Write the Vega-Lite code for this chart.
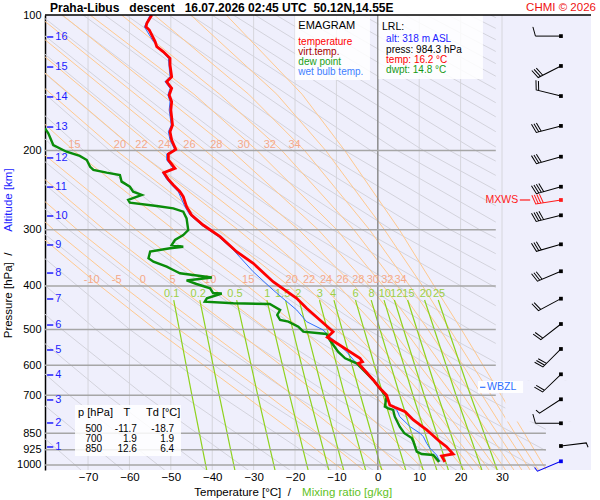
{
  "$schema": "https://vega.github.io/schema/vega-lite/v6.json",
  "width": 546,
  "height": 455,
  "autosize": {"type": "none"},
  "padding": {"left": 45, "top": 15, "right": 9, "bottom": 30},
  "background": "white",
  "config": {
    "font": "Liberation Sans",
    "view": {"stroke": null, "fill": "#efeffc"},
    "axis": {"grid": false, "ticks": false, "domain": false}
  },
  "data": {"values": [{}]},
  "datasets": {
    "iso": [{"T": -70}, {"T": -60}, {"T": -50}, {"T": -40}, {"T": -30}, {"T": -20}, {"T": -10}, {"T": 10}, {"T": 20}],
    "dry": [
      {"id": 200, "p": 1030, "T": -71.5}, {"id": 200, "p": 700, "T": -92.5},
      {"id": 210, "p": 1030, "T": -61.4}, {"id": 210, "p": 700, "T": -83.5},
      {"id": 220, "p": 1030, "T": -51.3}, {"id": 220, "p": 700, "T": -74.5}, {"id": 220, "p": 500, "T": -92.7},
      {"id": 230, "p": 1030, "T": -41.2}, {"id": 230, "p": 700, "T": -65.4}, {"id": 230, "p": 500, "T": -84.5},
      {"id": 240, "p": 1030, "T": -31.1}, {"id": 240, "p": 700, "T": -56.4}, {"id": 240, "p": 500, "T": -76.3}, {"id": 240, "p": 300, "T": -103.0},
      {"id": 250, "p": 1030, "T": -21.0}, {"id": 250, "p": 700, "T": -47.4}, {"id": 250, "p": 500, "T": -68.1}, {"id": 250, "p": 300, "T": -95.9},
      {"id": 260, "p": 1030, "T": -11.0}, {"id": 260, "p": 700, "T": -38.3}, {"id": 260, "p": 500, "T": -59.9}, {"id": 260, "p": 300, "T": -88.8},
      {"id": 270, "p": 1030, "T": -0.9}, {"id": 270, "p": 700, "T": -29.3}, {"id": 270, "p": 500, "T": -51.7}, {"id": 270, "p": 300, "T": -81.8}, {"id": 270, "p": 200, "T": -102.7},
      {"id": 280, "p": 1030, "T": 9.2}, {"id": 280, "p": 700, "T": -20.3}, {"id": 280, "p": 500, "T": -43.5}, {"id": 280, "p": 300, "T": -74.7}, {"id": 280, "p": 200, "T": -96.4},
      {"id": 290, "p": 1030, "T": 19.3}, {"id": 290, "p": 700, "T": -11.3}, {"id": 290, "p": 500, "T": -35.3}, {"id": 290, "p": 300, "T": -67.6}, {"id": 290, "p": 200, "T": -90.0},
      {"id": 300, "p": 1030, "T": 29.4}, {"id": 300, "p": 700, "T": -2.2}, {"id": 300, "p": 500, "T": -27.1}, {"id": 300, "p": 300, "T": -60.5}, {"id": 300, "p": 200, "T": -83.7},
      {"id": 310, "p": 1030, "T": 39.5}, {"id": 310, "p": 700, "T": 6.8}, {"id": 310, "p": 500, "T": -18.9}, {"id": 310, "p": 300, "T": -53.4}, {"id": 310, "p": 200, "T": -77.4}, {"id": 310, "p": 100, "T": -112.6},
      {"id": 320, "p": 1030, "T": 49.6}, {"id": 320, "p": 700, "T": 15.8}, {"id": 320, "p": 500, "T": -10.7}, {"id": 320, "p": 300, "T": -46.3}, {"id": 320, "p": 200, "T": -71.1}, {"id": 320, "p": 100, "T": -107.4},
      {"id": 330, "p": 1030, "T": 59.7}, {"id": 330, "p": 700, "T": 24.9}, {"id": 330, "p": 500, "T": -2.5}, {"id": 330, "p": 300, "T": -39.2}, {"id": 330, "p": 200, "T": -64.8}, {"id": 330, "p": 100, "T": -102.2},
      {"id": 340, "p": 1030, "T": 69.7}, {"id": 340, "p": 700, "T": 33.9}, {"id": 340, "p": 500, "T": 5.8}, {"id": 340, "p": 300, "T": -32.1}, {"id": 340, "p": 200, "T": -58.5}, {"id": 340, "p": 100, "T": -97.1},
      {"id": 350, "p": 700, "T": 42.9}, {"id": 350, "p": 500, "T": 14.0}, {"id": 350, "p": 300, "T": -25.0}, {"id": 350, "p": 200, "T": -52.2}, {"id": 350, "p": 100, "T": -91.9},
      {"id": 360, "p": 700, "T": 52.0}, {"id": 360, "p": 500, "T": 22.2}, {"id": 360, "p": 300, "T": -18.0}, {"id": 360, "p": 200, "T": -45.9}, {"id": 360, "p": 100, "T": -86.7},
      {"id": 370, "p": 700, "T": 61.0}, {"id": 370, "p": 500, "T": 30.4}, {"id": 370, "p": 300, "T": -10.9}, {"id": 370, "p": 200, "T": -39.5}, {"id": 370, "p": 100, "T": -81.5},
      {"id": 380, "p": 500, "T": 38.6}, {"id": 380, "p": 300, "T": -3.8}, {"id": 380, "p": 200, "T": -33.2}, {"id": 380, "p": 100, "T": -76.4},
      {"id": 390, "p": 500, "T": 46.8}, {"id": 390, "p": 300, "T": 3.3}, {"id": 390, "p": 200, "T": -26.9}, {"id": 390, "p": 100, "T": -71.2},
      {"id": 400, "p": 500, "T": 55.0}, {"id": 400, "p": 300, "T": 10.4}, {"id": 400, "p": 200, "T": -20.6}, {"id": 400, "p": 100, "T": -66.0},
      {"id": 410, "p": 500, "T": 63.2}, {"id": 410, "p": 300, "T": 17.5}, {"id": 410, "p": 200, "T": -14.3}, {"id": 410, "p": 100, "T": -60.8},
      {"id": 420, "p": 500, "T": 71.4}, {"id": 420, "p": 300, "T": 24.6}, {"id": 420, "p": 200, "T": -8.0}, {"id": 420, "p": 100, "T": -55.6},
      {"id": 430, "p": 300, "T": 31.7}, {"id": 430, "p": 200, "T": -1.7}, {"id": 430, "p": 100, "T": -50.5},
      {"id": 440, "p": 300, "T": 38.8}, {"id": 440, "p": 200, "T": 4.7}, {"id": 440, "p": 100, "T": -45.3},
      {"id": 450, "p": 300, "T": 45.9}, {"id": 450, "p": 200, "T": 11.0}, {"id": 450, "p": 100, "T": -40.1},
      {"id": 460, "p": 300, "T": 52.9}, {"id": 460, "p": 200, "T": 17.3}, {"id": 460, "p": 100, "T": -34.9},
      {"id": 470, "p": 300, "T": 60.0}, {"id": 470, "p": 200, "T": 23.6}, {"id": 470, "p": 100, "T": -29.7},
      {"id": 480, "p": 200, "T": 29.9}, {"id": 480, "p": 100, "T": -24.6},
      {"id": 490, "p": 200, "T": 36.2}, {"id": 490, "p": 100, "T": -19.4},
      {"id": 500, "p": 200, "T": 42.6}, {"id": 500, "p": 100, "T": -14.2},
      {"id": 510, "p": 200, "T": 48.9}, {"id": 510, "p": 100, "T": -9.0},
      {"id": 520, "p": 200, "T": 55.2}, {"id": 520, "p": 100, "T": -3.8},
      {"id": 530, "p": 200, "T": 61.5}, {"id": 530, "p": 100, "T": 1.3},
      {"id": 540, "p": 200, "T": 67.8}, {"id": 540, "p": 100, "T": 6.5},
      {"id": 550, "p": 200, "T": 74.1}, {"id": 550, "p": 100, "T": 11.7},
      {"id": 560, "p": 200, "T": 80.4}, {"id": 560, "p": 100, "T": 16.9},
      {"id": 570, "p": 200, "T": 86.8}, {"id": 570, "p": 100, "T": 22.1},
      {"id": 580, "p": 200, "T": 93.1}, {"id": 580, "p": 100, "T": 27.2}
    ],
    "moist": [
      {"id": -10, "p": 1030, "T": -8.2}, {"id": -10, "p": 850, "T": -20.0}, {"id": -10, "p": 700, "T": -32.3}, {"id": -10, "p": 500, "T": -53.7}, {"id": -10, "p": 400, "T": -67.1}, {"id": -10, "p": 300, "T": -83.4},
      {"id": -5, "p": 1030, "T": -3.3}, {"id": -5, "p": 850, "T": -14.5}, {"id": -5, "p": 700, "T": -26.6}, {"id": -5, "p": 500, "T": -48.0}, {"id": -5, "p": 400, "T": -61.7}, {"id": -5, "p": 300, "T": -78.3}, {"id": -5, "p": 200, "T": -99.6},
      {"id": 0, "p": 1030, "T": 1.6}, {"id": 0, "p": 850, "T": -9.0}, {"id": 0, "p": 700, "T": -20.4}, {"id": 0, "p": 500, "T": -41.6}, {"id": 0, "p": 400, "T": -55.6}, {"id": 0, "p": 300, "T": -72.6}, {"id": 0, "p": 200, "T": -94.6},
      {"id": 5, "p": 1030, "T": 6.5}, {"id": 5, "p": 850, "T": -3.3}, {"id": 5, "p": 700, "T": -14.0}, {"id": 5, "p": 500, "T": -34.6}, {"id": 5, "p": 400, "T": -48.6}, {"id": 5, "p": 300, "T": -66.1}, {"id": 5, "p": 200, "T": -88.7},
      {"id": 10, "p": 1030, "T": 11.4}, {"id": 10, "p": 850, "T": 2.3}, {"id": 10, "p": 700, "T": -7.5}, {"id": 10, "p": 500, "T": -26.7}, {"id": 10, "p": 400, "T": -40.6}, {"id": 10, "p": 300, "T": -58.4}, {"id": 10, "p": 200, "T": -81.8},
      {"id": 15, "p": 1030, "T": 16.3}, {"id": 15, "p": 850, "T": 8.0}, {"id": 15, "p": 700, "T": -0.8}, {"id": 15, "p": 500, "T": -18.3}, {"id": 15, "p": 400, "T": -31.5}, {"id": 15, "p": 300, "T": -49.3}, {"id": 15, "p": 200, "T": -73.5}, {"id": 15, "p": 100, "T": -109.3},
      {"id": 20, "p": 1030, "T": 21.2}, {"id": 20, "p": 850, "T": 13.6}, {"id": 20, "p": 700, "T": 5.7}, {"id": 20, "p": 500, "T": -9.7}, {"id": 20, "p": 400, "T": -21.5}, {"id": 20, "p": 300, "T": -38.5}, {"id": 20, "p": 200, "T": -63.2}, {"id": 20, "p": 100, "T": -100.9},
      {"id": 22, "p": 1030, "T": 23.1}, {"id": 22, "p": 850, "T": 15.9}, {"id": 22, "p": 700, "T": 8.3}, {"id": 22, "p": 500, "T": -6.3}, {"id": 22, "p": 400, "T": -17.5}, {"id": 22, "p": 300, "T": -33.8}, {"id": 22, "p": 200, "T": -58.4}, {"id": 22, "p": 100, "T": -96.9},
      {"id": 24, "p": 1030, "T": 25.1}, {"id": 24, "p": 850, "T": 18.0}, {"id": 24, "p": 700, "T": 10.8}, {"id": 24, "p": 500, "T": -3.0}, {"id": 24, "p": 400, "T": -13.4}, {"id": 24, "p": 300, "T": -28.9}, {"id": 24, "p": 200, "T": -53.3}, {"id": 24, "p": 100, "T": -92.5},
      {"id": 26, "p": 1030, "T": 27.0}, {"id": 26, "p": 850, "T": 20.3}, {"id": 26, "p": 700, "T": 13.2}, {"id": 26, "p": 500, "T": 0.3}, {"id": 26, "p": 400, "T": -9.5}, {"id": 26, "p": 300, "T": -24.0}, {"id": 26, "p": 200, "T": -47.7}, {"id": 26, "p": 100, "T": -87.7},
      {"id": 28, "p": 1030, "T": 29.0}, {"id": 28, "p": 850, "T": 22.4}, {"id": 28, "p": 700, "T": 15.7}, {"id": 28, "p": 500, "T": 3.3}, {"id": 28, "p": 400, "T": -5.7}, {"id": 28, "p": 300, "T": -19.1}, {"id": 28, "p": 200, "T": -41.7}, {"id": 28, "p": 100, "T": -82.3},
      {"id": 30, "p": 1030, "T": 31.0}, {"id": 30, "p": 850, "T": 24.7}, {"id": 30, "p": 700, "T": 18.1}, {"id": 30, "p": 500, "T": 6.4}, {"id": 30, "p": 400, "T": -2.1}, {"id": 30, "p": 300, "T": -14.4}, {"id": 30, "p": 200, "T": -35.4}, {"id": 30, "p": 100, "T": -76.2},
      {"id": 32, "p": 1030, "T": 33.0}, {"id": 32, "p": 850, "T": 26.7}, {"id": 32, "p": 700, "T": 20.6}, {"id": 32, "p": 500, "T": 9.3}, {"id": 32, "p": 400, "T": 1.3}, {"id": 32, "p": 300, "T": -9.9}, {"id": 32, "p": 200, "T": -29.2}, {"id": 32, "p": 150, "T": -44.4}, {"id": 32, "p": 100, "T": -69.5},
      {"id": 34, "p": 1030, "T": 34.9}, {"id": 34, "p": 850, "T": 28.9}, {"id": 34, "p": 700, "T": 22.8}, {"id": 34, "p": 500, "T": 12.1}, {"id": 34, "p": 400, "T": 4.7}, {"id": 34, "p": 300, "T": -5.8}, {"id": 34, "p": 200, "T": -23.2}, {"id": 34, "p": 150, "T": -38.2}, {"id": 34, "p": 100, "T": -61.9},
      {"id": 36, "p": 1030, "T": 36.9}, {"id": 36, "p": 850, "T": 31.0}, {"id": 36, "p": 700, "T": 25.2}, {"id": 36, "p": 500, "T": 15.0}, {"id": 36, "p": 400, "T": 7.7}, {"id": 36, "p": 300, "T": -2.0}, {"id": 36, "p": 200, "T": -17.7}, {"id": 36, "p": 150, "T": -31.2}, {"id": 36, "p": 100, "T": -54.0},
      {"id": 38, "p": 1030, "T": 38.9}, {"id": 38, "p": 850, "T": 33.1}, {"id": 38, "p": 700, "T": 27.4}, {"id": 38, "p": 500, "T": 17.4}, {"id": 38, "p": 400, "T": 10.8}, {"id": 38, "p": 300, "T": 1.6}, {"id": 38, "p": 200, "T": -12.6}, {"id": 38, "p": 150, "T": -24.4}, {"id": 38, "p": 100, "T": -45.2},
      {"id": 40, "p": 1030, "T": 40.8}, {"id": 40, "p": 850, "T": 35.4}, {"id": 40, "p": 700, "T": 29.8}, {"id": 40, "p": 500, "T": 20.2}, {"id": 40, "p": 400, "T": 13.6}, {"id": 40, "p": 300, "T": 5.2}, {"id": 40, "p": 200, "T": -8.0}, {"id": 40, "p": 150, "T": -18.3}, {"id": 40, "p": 100, "T": -36.6}
    ],
    "mix": [
      {"id": 0.1, "p": 1030, "T": -41.3}, {"id": 0.1, "p": 700, "T": -44.9}, {"id": 0.1, "p": 430, "T": -49.3},
      {"id": 0.2, "p": 1030, "T": -34.5}, {"id": 0.2, "p": 700, "T": -38.3}, {"id": 0.2, "p": 430, "T": -43.0},
      {"id": 0.5, "p": 1030, "T": -24.8}, {"id": 0.5, "p": 700, "T": -29.0}, {"id": 0.5, "p": 430, "T": -34.1},
      {"id": 1, "p": 1030, "T": -16.8}, {"id": 1, "p": 700, "T": -21.3}, {"id": 1, "p": 430, "T": -26.8},
      {"id": 1.5, "p": 1030, "T": -11.8}, {"id": 1.5, "p": 700, "T": -16.6}, {"id": 1.5, "p": 430, "T": -22.3},
      {"id": 2, "p": 1030, "T": -8.2}, {"id": 2, "p": 700, "T": -13.1}, {"id": 2, "p": 430, "T": -19.0},
      {"id": 3, "p": 1030, "T": -2.9}, {"id": 3, "p": 700, "T": -8.0}, {"id": 3, "p": 430, "T": -14.1},
      {"id": 4, "p": 1030, "T": 1.0}, {"id": 4, "p": 700, "T": -4.2}, {"id": 4, "p": 430, "T": -10.6},
      {"id": 6, "p": 1030, "T": 6.8}, {"id": 6, "p": 700, "T": 1.3}, {"id": 6, "p": 430, "T": -5.4},
      {"id": 8, "p": 1030, "T": 11.0}, {"id": 8, "p": 700, "T": 5.3}, {"id": 8, "p": 430, "T": -1.6},
      {"id": 10, "p": 1030, "T": 14.3}, {"id": 10, "p": 700, "T": 8.5}, {"id": 10, "p": 430, "T": 1.5},
      {"id": 12, "p": 1030, "T": 17.1}, {"id": 12, "p": 700, "T": 11.2}, {"id": 12, "p": 430, "T": 4.0},
      {"id": 15, "p": 1030, "T": 20.6}, {"id": 15, "p": 700, "T": 14.5}, {"id": 15, "p": 430, "T": 7.2},
      {"id": 20, "p": 1030, "T": 25.2}, {"id": 20, "p": 700, "T": 18.9}, {"id": 20, "p": 430, "T": 11.3},
      {"id": 25, "p": 1030, "T": 28.9}, {"id": 25, "p": 700, "T": 22.4}, {"id": 25, "p": 430, "T": 14.6}
    ],
    "mixlab": [
      {"lab": "0.1", "T": -49.8}, {"lab": "0.2", "T": -43.4}, {"lab": "0.5", "T": -34.5}, {"lab": "1", "T": -26.7}, {"lab": "1.5", "T": -23.0},
      {"lab": "2", "T": -19.2}, {"lab": "3", "T": -14.0}, {"lab": "4", "T": -10.8}, {"lab": "6", "T": -5.4}, {"lab": "8", "T": -1.5},
      {"lab": "10", "T": 1.7}, {"lab": "12", "T": 4.5}, {"lab": "15", "T": 7.4}, {"lab": "20", "T": 11.6}, {"lab": "25", "T": 14.8}
    ],
    "wlab400": [
      {"lab": "-10", "T": -69.1}, {"lab": "-5", "T": -63.1}, {"lab": "0", "T": -56.8}, {"lab": "5", "T": -49.6}, {"lab": "10", "T": -40.5},
      {"lab": "15", "T": -31.3}, {"lab": "20", "T": -20.8}, {"lab": "22", "T": -16.6}, {"lab": "24", "T": -12.5}, {"lab": "26", "T": -8.5},
      {"lab": "28", "T": -4.7}, {"lab": "30", "T": -1.2}, {"lab": "32", "T": 2.3}, {"lab": "34", "T": 5.5}
    ],
    "wlab200": [
      {"lab": "15", "T": -73.3}, {"lab": "20", "T": -62.3}, {"lab": "22", "T": -57.1}, {"lab": "24", "T": -51.6}, {"lab": "26", "T": -45.5},
      {"lab": "28", "T": -39.0}, {"lab": "30", "T": -32.4}, {"lab": "32", "T": -26.1}, {"lab": "34", "T": -20.1}
    ],
    "temp": [
      {"p": 100, "T": -54.6}, {"p": 104.3, "T": -55.8}, {"p": 106.2, "T": -56.0}, {"p": 108.0, "T": -55.2}, {"p": 114.6, "T": -53.8},
      {"p": 117.6, "T": -53.4}, {"p": 120.7, "T": -51.8}, {"p": 124.8, "T": -50.2}, {"p": 129.2, "T": -50.2}, {"p": 137.1, "T": -49.8},
      {"p": 140.7, "T": -51.0}, {"p": 145.5, "T": -49.8}, {"p": 150.6, "T": -50.4}, {"p": 155.8, "T": -49.8}, {"p": 162.6, "T": -50.0},
      {"p": 175.6, "T": -49.6}, {"p": 181.7, "T": -50.2}, {"p": 189.6, "T": -49.8}, {"p": 198.9, "T": -48.8}, {"p": 203.7, "T": -50.6},
      {"p": 210.0, "T": -50.6}, {"p": 219.2, "T": -49.0}, {"p": 224.1, "T": -51.7}, {"p": 231.9, "T": -50.6}, {"p": 238.7, "T": -49.4},
      {"p": 247.0, "T": -47.8}, {"p": 253.4, "T": -47.0}, {"p": 266.7, "T": -46.2}, {"p": 278.3, "T": -45.0}, {"p": 292.9, "T": -42.2},
      {"p": 310.9, "T": -38.1}, {"p": 335.7, "T": -34.1}, {"p": 356.3, "T": -30.1}, {"p": 391.4, "T": -25.3}, {"p": 426.2, "T": -19.6},
      {"p": 448.5, "T": -17.2}, {"p": 476.2, "T": -14.0}, {"p": 505.6, "T": -10.8}, {"p": 520.2, "T": -12.2}, {"p": 536.5, "T": -9.9},
      {"p": 579.4, "T": -4.3}, {"p": 589.6, "T": -3.7}, {"p": 594.3, "T": -4.7}, {"p": 647.3, "T": -1.1}, {"p": 675.5, "T": 0.5},
      {"p": 698.9, "T": 2.1}, {"p": 735.6, "T": 2.9}, {"p": 744.3, "T": 4.1}, {"p": 761.3, "T": 6.6}, {"p": 794.3, "T": 8.6},
      {"p": 835.9, "T": 11.8}, {"p": 857.7, "T": 13.2}, {"p": 887.6, "T": 15.0}, {"p": 910.6, "T": 16.6}, {"p": 945.3, "T": 18.2},
      {"p": 955.0, "T": 15.4}, {"p": 984.3, "T": 16.2}
    ],
    "dew": [
      {"p": 178.6, "T": -80.4}, {"p": 183.2, "T": -79.6}, {"p": 194.5, "T": -78.4}, {"p": 201.3, "T": -75.2}, {"p": 205.7, "T": -72.0},
      {"p": 210.0, "T": -70.3}, {"p": 217.4, "T": -69.5}, {"p": 221.0, "T": -68.7}, {"p": 224.1, "T": -65.5}, {"p": 226.8, "T": -62.3},
      {"p": 234.6, "T": -61.9}, {"p": 240.8, "T": -59.9}, {"p": 247.0, "T": -59.1}, {"p": 251.2, "T": -57.0}, {"p": 257.7, "T": -60.3},
      {"p": 261.3, "T": -59.9}, {"p": 265.8, "T": -53.4}, {"p": 268.9, "T": -49.4}, {"p": 273.6, "T": -47.0}, {"p": 283.1, "T": -46.2},
      {"p": 300.5, "T": -45.8}, {"p": 308.3, "T": -47.0}, {"p": 316.2, "T": -49.0}, {"p": 324.4, "T": -49.8}, {"p": 327.3, "T": -47.0},
      {"p": 329.9, "T": -50.2}, {"p": 335.7, "T": -55.0}, {"p": 347.3, "T": -55.4}, {"p": 353.3, "T": -54.2}, {"p": 362.5, "T": -51.0},
      {"p": 368.7, "T": -49.4}, {"p": 375.0, "T": -47.8}, {"p": 383.1, "T": -40.1}, {"p": 389.0, "T": -46.2}, {"p": 396.1, "T": -43.8},
      {"p": 404.9, "T": -40.5}, {"p": 414.8, "T": -39.8}, {"p": 415.8, "T": -37.7}, {"p": 426.2, "T": -41.3}, {"p": 433.6, "T": -41.8},
      {"p": 437.2, "T": -34.9}, {"p": 438.7, "T": -26.1}, {"p": 452.4, "T": -23.6}, {"p": 464.2, "T": -24.3}, {"p": 476.2, "T": -23.6},
      {"p": 480.3, "T": -21.6}, {"p": 492.8, "T": -19.2}, {"p": 505.6, "T": -18.0}, {"p": 511.5, "T": -12.4}, {"p": 527.5, "T": -11.6},
      {"p": 560.1, "T": -9.6}, {"p": 579.4, "T": -7.9}, {"p": 594.3, "T": -5.1}, {"p": 647.3, "T": -1.1}, {"p": 675.5, "T": 0.5},
      {"p": 706.1, "T": 2.1}, {"p": 742.0, "T": 1.7}, {"p": 748.2, "T": 2.5}, {"p": 754.7, "T": 3.7}, {"p": 781.0, "T": 4.1},
      {"p": 822.0, "T": 5.3}, {"p": 850.0, "T": 6.4}, {"p": 871.0, "T": 8.2}, {"p": 887.6, "T": 8.6}, {"p": 934.2, "T": 9.4},
      {"p": 945.3, "T": 10.6}, {"p": 950.1, "T": 13.4}, {"p": 984.3, "T": 14.8}
    ],
    "wet": [
      {"p": 100, "T": -55.0}, {"p": 106.2, "T": -56.4}, {"p": 114.6, "T": -54.2}, {"p": 124.8, "T": -50.6}, {"p": 137.1, "T": -50.2},
      {"p": 140.7, "T": -51.4}, {"p": 145.5, "T": -50.2}, {"p": 150.6, "T": -50.7}, {"p": 155.8, "T": -50.2}, {"p": 162.6, "T": -50.4},
      {"p": 175.6, "T": -49.9}, {"p": 181.7, "T": -50.6}, {"p": 189.6, "T": -50.2}, {"p": 198.9, "T": -49.1}, {"p": 203.7, "T": -51.0},
      {"p": 210.0, "T": -51.0}, {"p": 219.2, "T": -49.4}, {"p": 224.1, "T": -52.0}, {"p": 231.9, "T": -51.0}, {"p": 238.7, "T": -49.8},
      {"p": 247.0, "T": -48.2}, {"p": 266.7, "T": -46.6}, {"p": 278.3, "T": -45.4}, {"p": 292.9, "T": -42.6}, {"p": 310.9, "T": -38.5},
      {"p": 332.8, "T": -34.9}, {"p": 372.0, "T": -30.1}, {"p": 408.4, "T": -25.3}, {"p": 452.4, "T": -19.6}, {"p": 480.3, "T": -17.2},
      {"p": 501.2, "T": -13.2}, {"p": 518.7, "T": -11.6}, {"p": 561.0, "T": -7.5}, {"p": 589.6, "T": -5.5}, {"p": 647.3, "T": -1.1},
      {"p": 675.5, "T": 0.5}, {"p": 698.9, "T": 2.1}, {"p": 717.1, "T": 2.3}, {"p": 735.6, "T": 2.9}, {"p": 754.7, "T": 4.6},
      {"p": 781.0, "T": 5.3}, {"p": 822.0, "T": 7.8}, {"p": 850.3, "T": 10.2}, {"p": 865.1, "T": 11.0}, {"p": 895.0, "T": 11.8},
      {"p": 918.2, "T": 12.6}, {"p": 950.1, "T": 14.2}, {"p": 984.3, "T": 15.0}
    ],
    "alt": [
      {"km": 16, "p": 111.9}, {"km": 15, "p": 130.5}, {"km": 14, "p": 152.1}, {"km": 13, "p": 177.4}, {"km": 12, "p": 207.8},
      {"km": 11, "p": 241.2}, {"km": 10, "p": 279.7}, {"km": 9, "p": 324.4}, {"km": 8, "p": 374.5}, {"km": 7, "p": 427.7},
      {"km": 6, "p": 488.6}, {"km": 5, "p": 555.2}, {"km": 4, "p": 631.0}, {"km": 3, "p": 717.0}, {"km": 2, "p": 806.6}, {"km": 1, "p": 912.0}
    ],
    "wind": [
      {"p": 111.4, "dd": 270, "kt": 10, "kind": "obs"}, {"p": 129.8, "dd": 243, "kt": 30, "kind": "obs"},
      {"p": 151.4, "dd": 284, "kt": 20, "kind": "obs"}, {"p": 176.4, "dd": 255, "kt": 30, "kind": "obs"},
      {"p": 206.5, "dd": 254, "kt": 30, "kind": "obs"}, {"p": 240.8, "dd": 254, "kt": 40, "kind": "obs"},
      {"p": 257.7, "dd": 261, "kt": 40, "kind": "mxws"}, {"p": 278.7, "dd": 256, "kt": 40, "kind": "obs"},
      {"p": 323.3, "dd": 254, "kt": 30, "kind": "obs"}, {"p": 371.1, "dd": 247, "kt": 30, "kind": "obs"},
      {"p": 427.0, "dd": 242, "kt": 20, "kind": "obs"}, {"p": 486.1, "dd": 232, "kt": 20, "kind": "obs"},
      {"p": 552.3, "dd": 225, "kt": 30, "kind": "obs"}, {"p": 628.7, "dd": 226, "kt": 20, "kind": "obs"},
      {"p": 714.5, "dd": 237, "kt": 5, "kind": "obs"}, {"p": 807.8, "dd": 270, "kt": 10, "kind": "obs"},
      {"p": 907.4, "dd": 83, "kt": 5, "kind": "obs"}, {"p": 981.3, "dd": 247, "kt": 5, "kind": "sfc"}
    ]
  },
  "layer": [
    {
      "data": {"name": "iso"},
      "mark": {"type": "rule", "color": "#d6d6dc", "strokeWidth": 1},
      "encoding": {
        "x": {"field": "T", "type": "quantitative", "scale": {"domain": [-80.4, 51.5], "nice": false, "zero": false},
          "axis": {"values": [-70, -60, -50, -40, -30, -20, -10, 0, 10, 20, 30], "title": null, "labelFontSize": 11.5, "labelPadding": 1, "labelColor": "black", "labelFont": "Liberation Sans", "domain": false, "ticks": false, "grid": false}}
      }
    },
    {
      "data": {"name": "dry"},
      "mark": {"type": "line", "color": "#d3d3dc", "strokeWidth": 1, "clip": true},
      "encoding": {
        "x": {"field": "T", "type": "quantitative"},
        "y": {"field": "p", "type": "quantitative", "scale": {"type": "log", "domain": [100, 1026], "reverse": true, "nice": false},
          "axis": {"values": [100, 200, 300, 400, 500, 600, 700, 850, 925, 1000], "format": "d", "title": null, "labelFontSize": 11, "labelPadding": 4, "labelColor": "black", "labelFont": "Liberation Sans", "labelOverlap": false, "domain": true, "domainColor": "black", "domainWidth": 1.5, "ticks": false, "grid": false}},
        "detail": {"field": "id", "type": "nominal"},
        "order": {"field": "p", "type": "quantitative"}
      }
    },
    {
      "data": {"name": "moist"},
      "mark": {"type": "line", "color": "#ffc98f", "strokeWidth": 1, "clip": true},
      "encoding": {
        "x": {"field": "T", "type": "quantitative"},
        "y": {"field": "p", "type": "quantitative"},
        "detail": {"field": "id", "type": "nominal"},
        "order": {"field": "p", "type": "quantitative"}
      }
    },
    {
      "data": {"name": "mix"},
      "mark": {"type": "line", "color": "#8fd21e", "strokeWidth": 1.2, "clip": true},
      "encoding": {
        "x": {"field": "T", "type": "quantitative"},
        "y": {"field": "p", "type": "quantitative"},
        "detail": {"field": "id", "type": "nominal"},
        "order": {"field": "p", "type": "quantitative"}
      }
    },
    {
      "mark": {"type": "rect", "color": "#efeffc", "opacity": 1},
      "encoding": {"x": {"datum": 28.5}, "x2": {"datum": 51.5}, "y": {"datum": 100}, "y2": {"datum": 650}}
    },
    {
      "mark": {"type": "rect", "color": "#efeffc", "opacity": 1},
      "encoding": {"x": {"datum": 30.8}, "x2": {"datum": 51.5}, "y": {"datum": 650}, "y2": {"datum": 800}}
    },
    {
      "mark": {"type": "rect", "color": "#efeffc", "opacity": 1},
      "encoding": {"x": {"datum": 40.6}, "x2": {"datum": 51.5}, "y": {"datum": 800}, "y2": {"datum": 1026}}
    },
    {
      "mark": {"type": "rule", "color": "#d6d6dc", "strokeWidth": 1},
      "encoding": {"x": {"datum": 30}}
    },
    {
      "mark": {"type": "rule", "color": "#8c8c8c", "strokeWidth": 1.5},
      "encoding": {"x": {"datum": 0}}
    },
    {
      "data": {"values": [{"p": 200}, {"p": 300}, {"p": 400}, {"p": 500}, {"p": 600}, {"p": 700}]},
      "mark": {"type": "rule", "color": "#a6a6a6", "strokeWidth": 1.5},
      "encoding": {"y": {"field": "p", "type": "quantitative"}, "x": {"datum": -80.4}, "x2": {"datum": 28.5}}
    },
    {
      "data": {"values": [{"p": 850}, {"p": 925}, {"p": 1000}]},
      "mark": {"type": "rule", "color": "#a6a6a6", "strokeWidth": 1.5},
      "encoding": {"y": {"field": "p", "type": "quantitative"}, "x": {"datum": -80.4}, "x2": {"datum": 40.6}}
    },
    {
      "data": {"name": "wlab400"},
      "mark": {"type": "text", "color": "#f4a98a", "fontSize": 11, "baseline": "middle"},
      "encoding": {"x": {"field": "T", "type": "quantitative"}, "y": {"datum": 388}, "text": {"field": "lab"}}
    },
    {
      "data": {"name": "wlab200"},
      "mark": {"type": "text", "color": "#f4a98a", "fontSize": 11, "baseline": "middle"},
      "encoding": {"x": {"field": "T", "type": "quantitative"}, "y": {"datum": 194.5}, "text": {"field": "lab"}}
    },
    {
      "data": {"name": "mixlab"},
      "mark": {"type": "text", "color": "#9ccf45", "fontSize": 11, "baseline": "middle"},
      "encoding": {"x": {"field": "T", "type": "quantitative"}, "y": {"datum": 417}, "text": {"field": "lab"}}
    },
    {
      "mark": {"type": "rect", "color": "white", "opacity": 0.85},
      "encoding": {"x": {"datum": -20.0}, "x2": {"datum": -1.9}, "y": {"datum": 100}, "y2": {"datum": 139.5}}
    },
    {
      "mark": {"type": "rect", "color": "white", "opacity": 0.85},
      "encoding": {"x": {"datum": 0.2}, "x2": {"datum": 25.4}, "y": {"datum": 100}, "y2": {"datum": 138.8}}
    },
    {
      "mark": {"type": "rect", "color": "white", "opacity": 0.85},
      "encoding": {"x": {"datum": -73.15}, "x2": {"datum": -47.55}, "y": {"datum": 735.6}, "y2": {"datum": 955}}
    },
    {
      "mark": {"type": "rect", "color": "white", "opacity": 0.9},
      "encoding": {"x": {"datum": 24.2}, "x2": {"datum": 35.1}, "y": {"datum": 650.6}, "y2": {"datum": 691.8}}
    },
    {
      "data": {"name": "wet"},
      "mark": {"type": "line", "color": "#2f6fff", "strokeWidth": 1, "clip": true},
      "encoding": {"x": {"field": "T", "type": "quantitative"}, "y": {"field": "p", "type": "quantitative"}, "order": {"field": "p", "type": "quantitative"}}
    },
    {
      "data": {"name": "dew"},
      "mark": {"type": "line", "color": "#0a8c0a", "strokeWidth": 2.4, "clip": true},
      "encoding": {"x": {"field": "T", "type": "quantitative"}, "y": {"field": "p", "type": "quantitative"}, "order": {"field": "p", "type": "quantitative"}}
    },
    {
      "data": {"name": "temp"},
      "mark": {"type": "line", "color": "#ff0000", "strokeWidth": 2.8, "clip": true},
      "encoding": {"x": {"field": "T", "type": "quantitative"}, "y": {"field": "p", "type": "quantitative"}, "order": {"field": "p", "type": "quantitative"}}
    },
    {
      "data": {"name": "alt"},
      "mark": {"type": "rule", "color": "#1c1cff", "strokeWidth": 1.5},
      "encoding": {"y": {"field": "p", "type": "quantitative"}, "x": {"datum": -79.9}, "x2": {"datum": -78.4}}
    },
    {
      "data": {"name": "alt"},
      "mark": {"type": "text", "color": "#1c1cff", "fontSize": 11, "align": "left", "baseline": "middle"},
      "encoding": {"y": {"field": "p", "type": "quantitative"}, "x": {"datum": -77.9}, "text": {"field": "km"}}
    },
    {
      "data": {"name": "wind"},
      "mark": {"type": "point", "filled": false, "size": 2601, "strokeWidth": 1, "opacity": 1},
      "encoding": {
        "x": {"datum": 44.24},
        "y": {"field": "p", "type": "quantitative"},
        "shape": {"field": "kt", "type": "nominal", "legend": null,
          "scale": {"domain": [5, 10, 20, 30, 40], "range": [
            "M0,0L-1,0L-1.05,-0.18",
            "M0,0L-1,0L-1.1,-0.36",
            "M0,0L-1,0L-1.1,-0.36M-0.9,0L-1,-0.36",
            "M0,0L-1,0L-1.1,-0.36M-0.9,0L-1,-0.36M-0.8,0L-0.9,-0.36",
            "M0,0L-1,0L-1.1,-0.36M-0.9,0L-1,-0.36M-0.8,0L-0.9,-0.36M-0.7,0L-0.8,-0.36"]}},
        "angle": {"field": "dd", "type": "quantitative", "scale": {"domain": [0, 360], "range": [-270, 90]}},
        "color": {"field": "kind", "type": "nominal", "legend": null, "scale": {"domain": ["obs", "mxws", "sfc"], "range": ["black", "#ff1a1a", "#0000ee"]}}
      }
    },
    {
      "data": {"name": "wind"},
      "mark": {"type": "point", "filled": true, "shape": "square", "size": 14, "opacity": 1},
      "encoding": {
        "x": {"datum": 44.24},
        "y": {"field": "p", "type": "quantitative"},
        "color": {"field": "kind", "type": "nominal", "legend": null, "scale": {"domain": ["obs", "mxws", "sfc"], "range": ["black", "#ff1a1a", "#0000ee"]}}
      }
    },
    {
      "mark": {"type": "rule", "color": "#ff1a1a", "strokeWidth": 1.2},
      "encoding": {"x": {"datum": 34.3}, "x2": {"datum": 36.8}, "y": {"datum": 257.7}}
    },
    {
      "mark": {"type": "text", "text": "MXWS", "color": "#ff1a1a", "fontSize": 10.5, "align": "right", "baseline": "middle"},
      "encoding": {"x": {"datum": 33.9}, "y": {"datum": 257.7}}
    },
    {
      "mark": {"type": "rule", "color": "#2f6fff", "strokeWidth": 1.2},
      "encoding": {"x": {"datum": 24.7}, "x2": {"datum": 26.0}, "y": {"datum": 672}}
    },
    {
      "mark": {"type": "text", "text": "WBZL", "color": "#2f6fff", "fontSize": 10.5, "align": "left", "baseline": "middle"},
      "encoding": {"x": {"datum": 26.4}, "y": {"datum": 672}}
    },
    {
      "mark": {"type": "text", "text": "EMAGRAM", "color": "black", "fontSize": 11, "align": "left", "baseline": "middle"},
      "encoding": {"x": {"datum": -19.2}, "y": {"datum": 105.8}}
    },
    {
      "mark": {"type": "text", "text": "temperature", "color": "#ff0000", "fontSize": 10, "align": "left", "baseline": "middle"},
      "encoding": {"x": {"datum": -19.2}, "y": {"datum": 114.6}}
    },
    {
      "mark": {"type": "text", "text": "virt.temp.", "color": "#a50000", "fontSize": 10, "align": "left", "baseline": "middle"},
      "encoding": {"x": {"datum": -19.2}, "y": {"datum": 121.0}}
    },
    {
      "mark": {"type": "text", "text": "dew point", "color": "#18a018", "fontSize": 10, "align": "left", "baseline": "middle"},
      "encoding": {"x": {"datum": -19.2}, "y": {"datum": 127.2}}
    },
    {
      "mark": {"type": "text", "text": "wet bulb temp.", "color": "#3f7fff", "fontSize": 10, "align": "left", "baseline": "middle"},
      "encoding": {"x": {"datum": -19.2}, "y": {"datum": 133.7}}
    },
    {
      "mark": {"type": "text", "text": "LRL:", "color": "black", "fontSize": 10.5, "align": "left", "baseline": "middle"},
      "encoding": {"x": {"datum": 1.0}, "y": {"datum": 106.3}}
    },
    {
      "mark": {"type": "text", "text": "alt: 318 m ASL", "color": "#1c1cff", "fontSize": 10, "align": "left", "baseline": "middle"},
      "encoding": {"x": {"datum": 2.0}, "y": {"datum": 113.2}}
    },
    {
      "mark": {"type": "text", "text": "press: 984.3 hPa", "color": "black", "fontSize": 10, "align": "left", "baseline": "middle"},
      "encoding": {"x": {"datum": 2.0}, "y": {"datum": 119.6}}
    },
    {
      "mark": {"type": "text", "text": "temp: 16.2 °C", "color": "#ff0000", "fontSize": 10, "align": "left", "baseline": "middle"},
      "encoding": {"x": {"datum": 2.0}, "y": {"datum": 126.1}}
    },
    {
      "mark": {"type": "text", "text": "dwpt: 14.8 °C", "color": "#139913", "fontSize": 10, "align": "left", "baseline": "middle"},
      "encoding": {"x": {"datum": 2.0}, "y": {"datum": 132.7}}
    },
    {
      "mark": {"type": "text", "text": "p [hPa]", "color": "black", "fontSize": 11, "align": "left", "baseline": "middle"},
      "encoding": {"x": {"datum": -72.4}, "y": {"datum": 767.7}}
    },
    {
      "mark": {"type": "text", "text": "T", "color": "black", "fontSize": 11, "align": "center", "baseline": "middle"},
      "encoding": {"x": {"datum": -60.6}, "y": {"datum": 767.7}}
    },
    {
      "mark": {"type": "text", "text": "Td [°C]", "color": "black", "fontSize": 11, "align": "left", "baseline": "middle"},
      "encoding": {"x": {"datum": -56.0}, "y": {"datum": 767.7}}
    },
    {
      "mark": {"type": "text", "text": ["500", "700", "850"], "color": "black", "fontSize": 10, "lineHeight": 10, "align": "right", "baseline": "top"},
      "encoding": {"x": {"datum": -66.6}, "y": {"datum": 812}}
    },
    {
      "mark": {"type": "text", "text": ["-11.7", "1.9", "12.6"], "color": "black", "fontSize": 10, "lineHeight": 10, "align": "right", "baseline": "top"},
      "encoding": {"x": {"datum": -58.2}, "y": {"datum": 812}}
    },
    {
      "mark": {"type": "text", "text": ["-18.7", "1.9", "6.4"], "color": "black", "fontSize": 10, "lineHeight": 10, "align": "right", "baseline": "top"},
      "encoding": {"x": {"datum": -49.2}, "y": {"datum": 812}}
    },
    {
      "mark": {"type": "text", "text": "Praha-Libus\u00a0\u00a0\u00a0descent\u00a0\u00a0\u00a016.07.2026 02:45 UTC\u00a0\u00a050.12N,14.55E", "color": "black", "fontSize": 12, "fontWeight": "bold", "align": "left", "baseline": "middle"},
      "encoding": {"x": {"datum": -79.2}, "y": {"datum": 96.3}}
    },
    {
      "mark": {"type": "text", "text": "CHMI © 2026", "color": "#ee1111", "fontSize": 11.5, "align": "right", "baseline": "middle"},
      "encoding": {"x": {"datum": 52.7}, "y": {"datum": 96.3}}
    },
    {
      "mark": {"type": "text", "text": "Pressure [hPa]\u00a0\u00a0/", "color": "black", "fontSize": 11.5, "angle": 270, "align": "center", "baseline": "middle"},
      "encoding": {"x": {"datum": -89.1}, "y": {"datum": 420}}
    },
    {
      "mark": {"type": "text", "text": "Altitude [km]", "color": "#1c1cff", "fontSize": 11.5, "angle": 270, "align": "center", "baseline": "middle"},
      "encoding": {"x": {"datum": -89.1}, "y": {"datum": 257.7}}
    },
    {
      "mark": {"type": "text", "text": "Temperature [°C]\u00a0\u00a0/", "color": "black", "fontSize": 11.5, "align": "right", "baseline": "middle"},
      "encoding": {"x": {"datum": -21.0}, "y": {"datum": 1154}}
    },
    {
      "mark": {"type": "text", "text": "Mixing ratio [g/kg]", "color": "#5fc21e", "fontSize": 11.5, "align": "left", "baseline": "middle"},
      "encoding": {"x": {"datum": -18.3}, "y": {"datum": 1154}}
    },
    {
      "mark": {"type": "rule", "color": "black", "strokeWidth": 1.5},
      "encoding": {"x": {"datum": -80.4}, "x2": {"datum": 51.5}, "y": {"datum": 100}}
    }
  ]
}
